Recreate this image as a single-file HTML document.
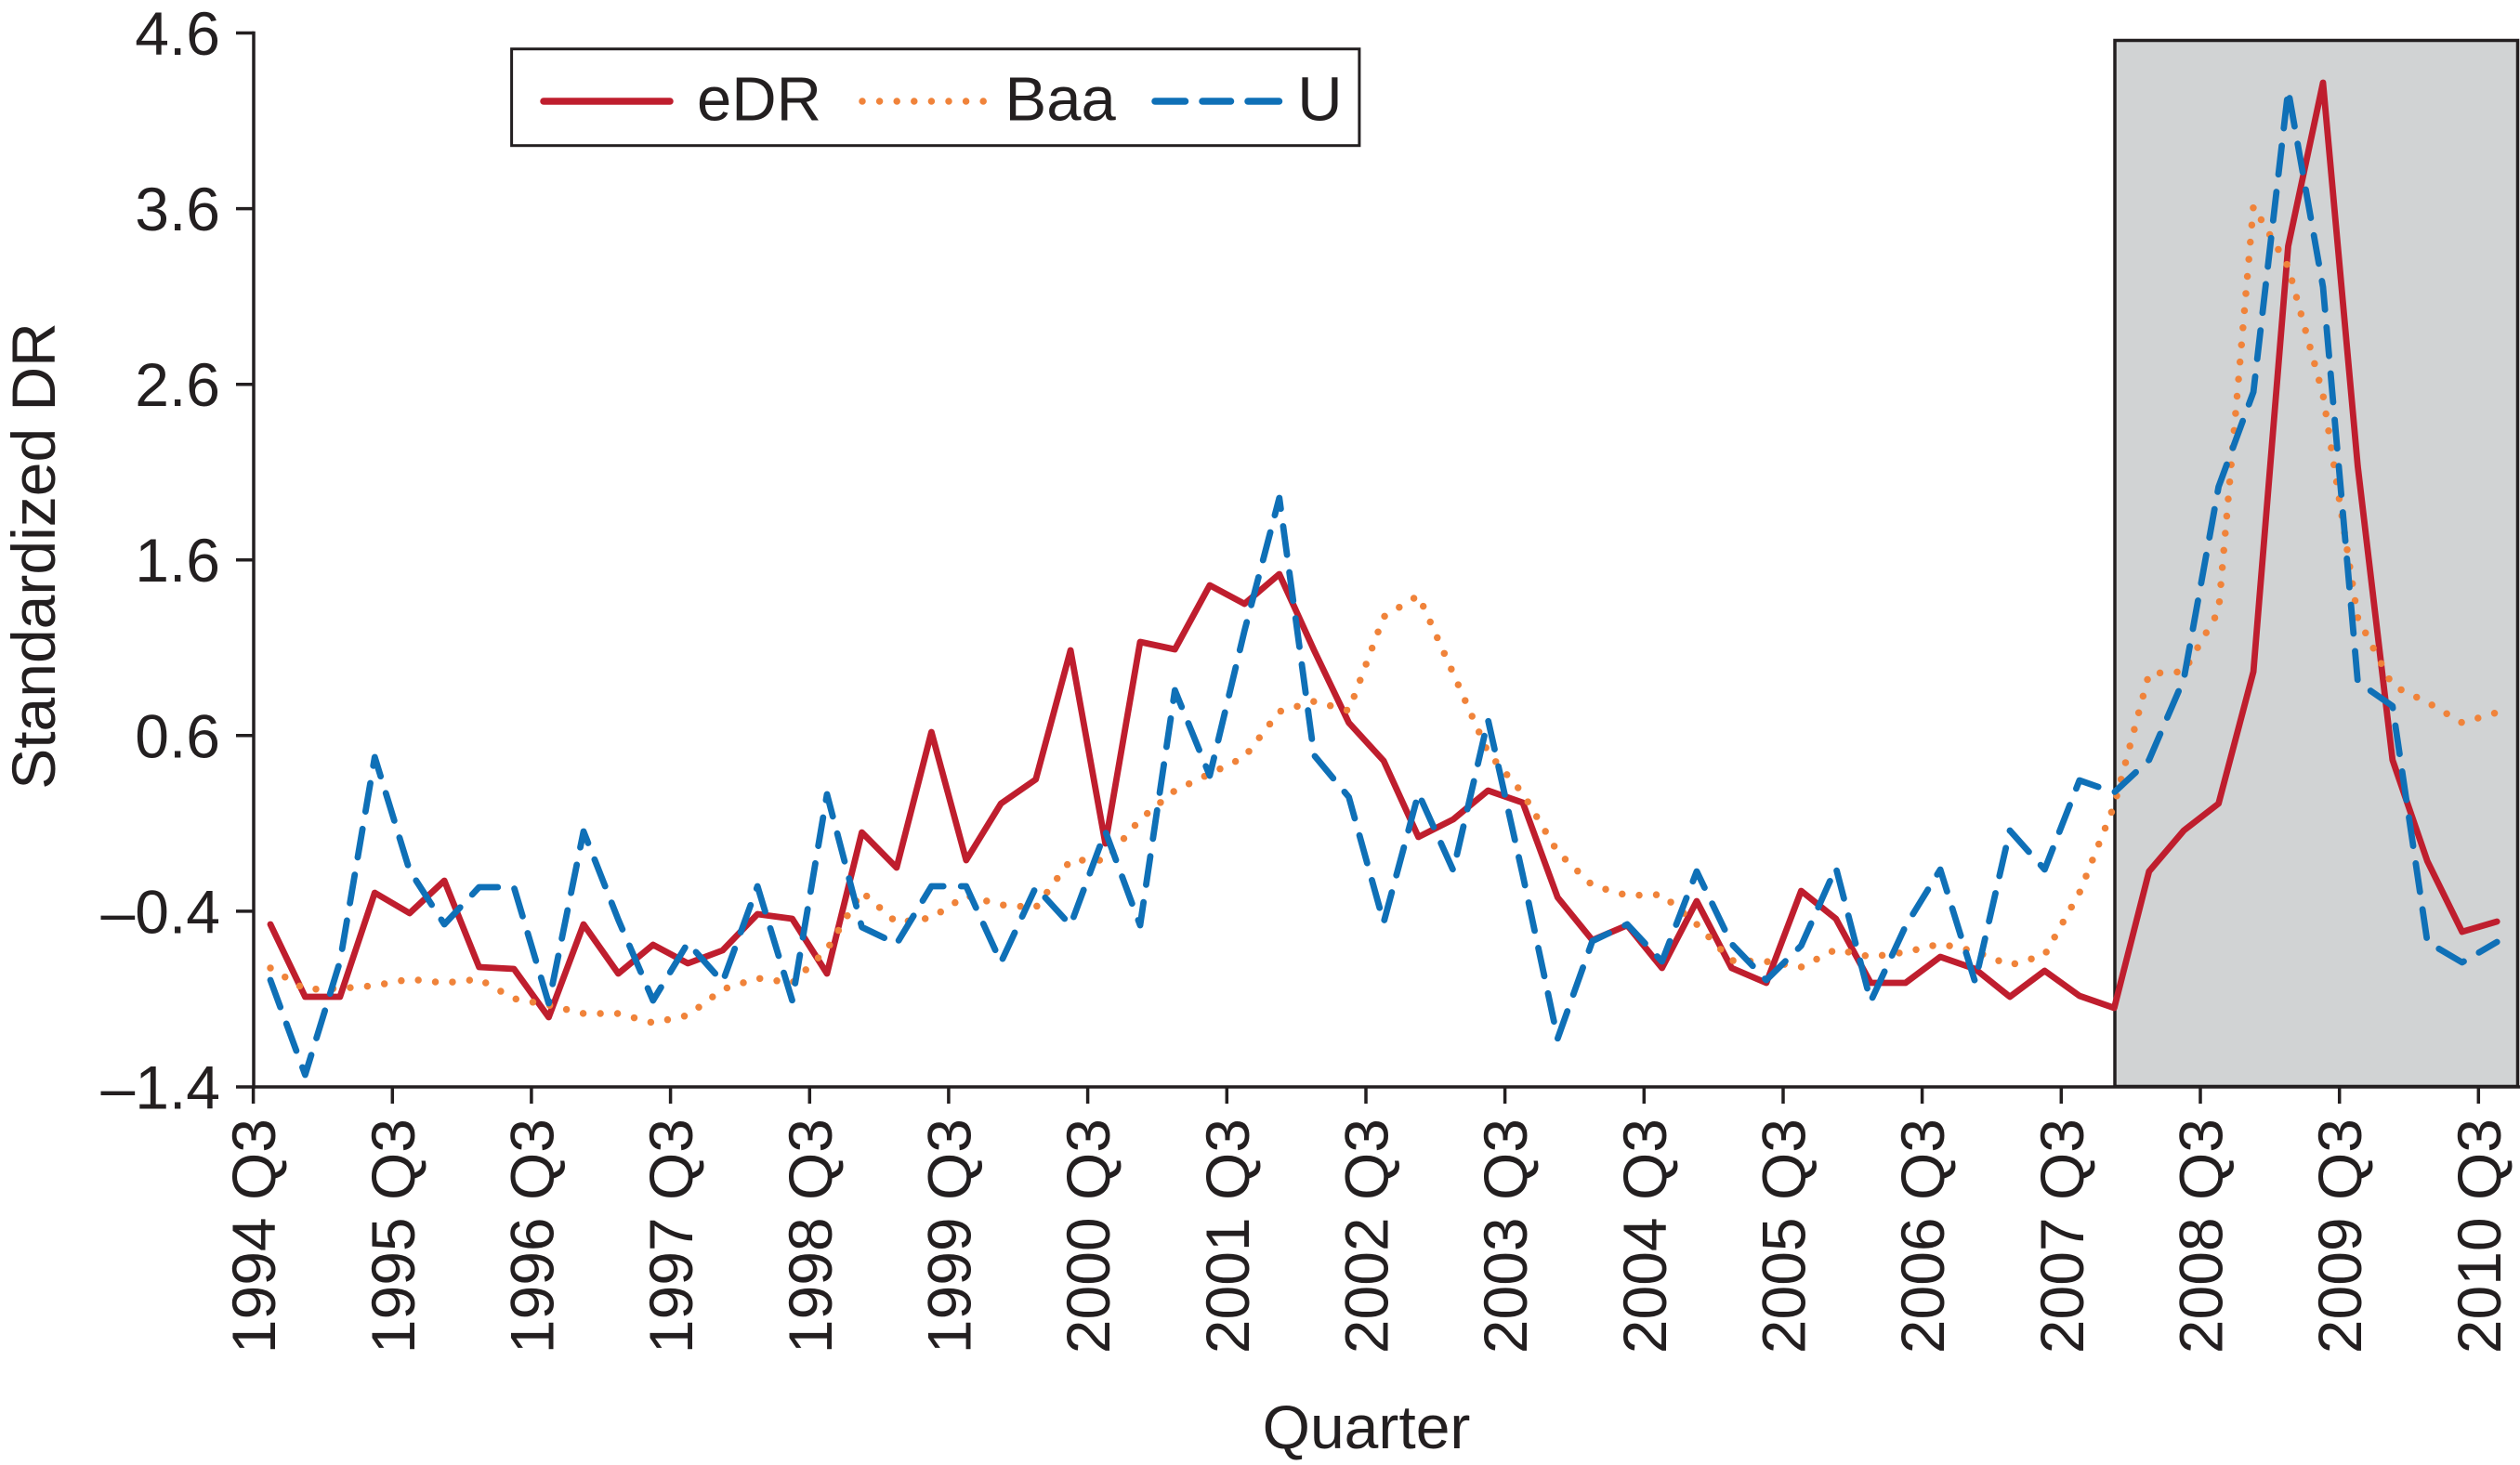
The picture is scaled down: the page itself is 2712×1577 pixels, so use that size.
<!DOCTYPE html>
<html>
<head>
<meta charset="utf-8">
<style>
  html,body{margin:0;padding:0;background:#fff;}
  svg{display:block;}
  text{font-family:"Liberation Sans", Arial, sans-serif; fill:#231F20;}
</style>
</head>
<body>
<svg width="2712" height="1577" viewBox="0 0 2712 1577" xmlns="http://www.w3.org/2000/svg">
  <rect x="0" y="0" width="2712" height="1577" fill="#ffffff"/>

  <!-- shaded crisis region -->
  <rect x="2276" y="43.5" width="433.5" height="1126" fill="#D1D3D4" stroke="#231F20" stroke-width="3.5"/>

  <!-- eDR (solid red) -->
  <polyline fill="none" stroke="#BF1E2E" stroke-width="6.8" stroke-linejoin="round" stroke-linecap="round"
    points="291.0,995 328.4,1073 365.9,1073 403.3,961 440.8,983 478.2,948 515.6,1041 553.1,1043 590.5,1095 628.0,995 665.4,1048 702.8,1017 740.3,1037 777.7,1023 815.2,984 852.6,989 890.0,1048 927.5,896 964.9,934 1002.4,788 1039.8,926 1077.2,865 1114.7,839 1152.1,700 1189.6,908 1227.0,691 1264.4,699 1301.9,630 1339.3,650 1376.8,618 1414.2,700 1451.6,778 1489.1,819 1526.5,901 1564.0,882 1601.4,851 1638.8,864 1676.3,966 1713.7,1012 1751.2,996 1788.6,1042 1826.0,970 1863.5,1042 1900.9,1058 1938.4,959 1975.8,989 2013.2,1058 2050.7,1058 2088.1,1030 2125.6,1043 2163.0,1073 2200.4,1045 2237.9,1072 2275.3,1085 2312.8,938 2350.2,894 2387.6,865 2425.1,723 2462.5,265 2500.0,89 2537.4,502 2574.8,818 2612.3,927 2649.7,1003 2687.2,992"/>

  <!-- Baa (dotted orange) -->
  <polyline fill="none" stroke="#F0833A" stroke-width="7.5" stroke-linejoin="round" stroke-linecap="round" stroke-dasharray="0 18.5"
    points="291.0,1042 328.4,1065 365.9,1064 403.3,1061 440.8,1054 478.2,1058 515.6,1054 553.1,1075 590.5,1082 628.0,1091 665.4,1091 702.8,1101 740.3,1093 777.7,1065 815.2,1053 852.6,1058 890.0,1022 927.5,960 964.9,993 1002.4,988 1039.8,964 1077.2,974 1114.7,977 1152.1,926 1189.6,926 1227.0,882 1264.4,851 1301.9,833 1339.3,815 1376.8,766 1414.2,755 1451.6,765 1489.1,664 1526.5,641 1564.0,725 1601.4,810 1638.8,854 1676.3,917 1713.7,953 1751.2,964 1788.6,963 1826.0,995 1863.5,1034 1900.9,1035 1938.4,1041 1975.8,1022 2013.2,1030 2050.7,1025 2088.1,1016 2125.6,1024 2163.0,1039 2200.4,1028 2237.9,961 2275.3,867 2312.8,725 2350.2,723 2387.6,658 2425.1,222 2462.5,287 2500.0,425 2537.4,665 2574.8,738 2612.3,756 2649.7,778 2687.2,767"/>

  <!-- U (dashed blue) -->
  <polyline fill="none" stroke="#0F70B7" stroke-width="6.8" stroke-linejoin="round" stroke-linecap="round" stroke-dasharray="31 19"
    points="291.0,1055 328.4,1157 365.9,1035 403.3,815 440.8,937 478.2,995 515.6,955 553.1,955 590.5,1080 628.0,895 665.4,990 702.8,1077 740.3,1015 777.7,1057 815.2,954 852.6,1077 890.0,855 927.5,998 964.9,1016 1002.4,954 1039.8,954 1077.2,1036 1114.7,955 1152.1,996 1189.6,895 1227.0,996 1264.4,743 1301.9,835 1339.3,679 1376.8,536 1414.2,813 1451.6,858 1489.1,993 1526.5,854 1564.0,937 1601.4,775 1638.8,942 1676.3,1118 1713.7,1013 1751.2,995 1788.6,1035 1826.0,938 1863.5,1016 1900.9,1055 1938.4,1018 1975.8,934 2013.2,1078 2050.7,997 2088.1,936 2125.6,1057 2163.0,894 2200.4,936 2237.9,840 2275.3,853 2312.8,818 2350.2,731 2387.6,524 2425.1,422 2462.5,97 2500.0,309 2537.4,734 2574.8,760 2612.3,1014 2649.7,1036 2687.2,1014"/>

  <!-- axes -->
  <g stroke="#231F20" stroke-width="3.5" fill="none">
    <line x1="273" y1="33.8" x2="273" y2="1171.7"/>
    <line x1="254" y1="1170" x2="2712" y2="1170"/>
    <!-- y ticks -->
    <line x1="254" y1="35.5" x2="273" y2="35.5"/>
    <line x1="254" y1="224.6" x2="273" y2="224.6"/>
    <line x1="254" y1="413.7" x2="273" y2="413.7"/>
    <line x1="254" y1="602.7" x2="273" y2="602.7"/>
    <line x1="254" y1="791.8" x2="273" y2="791.8"/>
    <line x1="254" y1="980.9" x2="273" y2="980.9"/>
    <!-- x ticks -->
    <line x1="272.6" y1="1170" x2="272.6" y2="1188"/>
    <line x1="422.3" y1="1170" x2="422.3" y2="1188"/>
    <line x1="571.9" y1="1170" x2="571.9" y2="1188"/>
    <line x1="721.6" y1="1170" x2="721.6" y2="1188"/>
    <line x1="871.3" y1="1170" x2="871.3" y2="1188"/>
    <line x1="1020.9" y1="1170" x2="1020.9" y2="1188"/>
    <line x1="1170.6" y1="1170" x2="1170.6" y2="1188"/>
    <line x1="1320.3" y1="1170" x2="1320.3" y2="1188"/>
    <line x1="1470.0" y1="1170" x2="1470.0" y2="1188"/>
    <line x1="1619.6" y1="1170" x2="1619.6" y2="1188"/>
    <line x1="1769.3" y1="1170" x2="1769.3" y2="1188"/>
    <line x1="1919.0" y1="1170" x2="1919.0" y2="1188"/>
    <line x1="2068.6" y1="1170" x2="2068.6" y2="1188"/>
    <line x1="2218.3" y1="1170" x2="2218.3" y2="1188"/>
    <line x1="2368.0" y1="1170" x2="2368.0" y2="1188"/>
    <line x1="2517.7" y1="1170" x2="2517.7" y2="1188"/>
    <line x1="2667.3" y1="1170" x2="2667.3" y2="1188"/>
  </g>

  <!-- y tick labels -->
  <g font-size="66" text-anchor="end">
    <text x="237" y="59">4.6</text>
    <text x="237" y="248.1">3.6</text>
    <text x="237" y="437.2">2.6</text>
    <text x="237" y="626.2">1.6</text>
    <text x="237" y="815.3">0.6</text>
    <text x="237" y="1004.4">–0.4</text>
    <text x="237" y="1193.5">–1.4</text>
  </g>

  <!-- x tick labels (rotated) -->
  <g font-size="66" text-anchor="end">
    <text transform="translate(296.1,1204) rotate(-90)">1994 Q3</text>
    <text transform="translate(445.8,1204) rotate(-90)">1995 Q3</text>
    <text transform="translate(595.4,1204) rotate(-90)">1996 Q3</text>
    <text transform="translate(745.1,1204) rotate(-90)">1997 Q3</text>
    <text transform="translate(894.8,1204) rotate(-90)">1998 Q3</text>
    <text transform="translate(1044.4,1204) rotate(-90)">1999 Q3</text>
    <text transform="translate(1194.1,1204) rotate(-90)">2000 Q3</text>
    <text transform="translate(1343.8,1204) rotate(-90)">2001 Q3</text>
    <text transform="translate(1493.5,1204) rotate(-90)">2002 Q3</text>
    <text transform="translate(1643.1,1204) rotate(-90)">2003 Q3</text>
    <text transform="translate(1792.8,1204) rotate(-90)">2004 Q3</text>
    <text transform="translate(1942.5,1204) rotate(-90)">2005 Q3</text>
    <text transform="translate(2092.1,1204) rotate(-90)">2006 Q3</text>
    <text transform="translate(2241.8,1204) rotate(-90)">2007 Q3</text>
    <text transform="translate(2391.5,1204) rotate(-90)">2008 Q3</text>
    <text transform="translate(2541.2,1204) rotate(-90)">2009 Q3</text>
    <text transform="translate(2690.8,1204) rotate(-90)">2010 Q3</text>
  </g>

  <!-- axis titles -->
  <text font-size="66" text-anchor="middle" transform="translate(59,598.5) rotate(-90)">Standardized DR</text>
  <text font-size="66" text-anchor="middle" x="1470.5" y="1559">Quarter</text>

  <!-- legend -->
  <rect x="550.6" y="52.7" width="912.3" height="104" fill="#ffffff" stroke="#231F20" stroke-width="3"/>
  <line x1="585" y1="109" x2="721" y2="109" stroke="#BF1E2E" stroke-width="7.5" stroke-linecap="round"/>
  <text x="750" y="129.3" font-size="67">eDR</text>
  <line x1="928" y1="109" x2="1059" y2="109" stroke="#F0833A" stroke-width="7.5" stroke-linecap="round" stroke-dasharray="0 18.6"/>
  <text x="1081.5" y="129.3" font-size="67">Baa</text>
  <g stroke="#0F70B7" stroke-width="7.5" stroke-linecap="round">
    <line x1="1243" y1="109" x2="1275.5" y2="109"/>
    <line x1="1294" y1="109" x2="1324.5" y2="109"/>
    <line x1="1343" y1="109" x2="1376.5" y2="109"/>
  </g>
  <text x="1396.3" y="129.3" font-size="67">U</text>
</svg>
</body>
</html>
